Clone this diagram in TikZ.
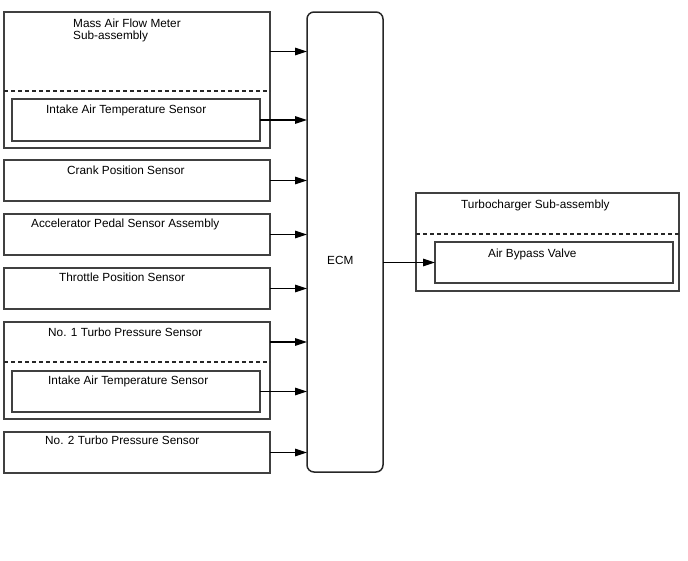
\documentclass[tikz,border=0pt]{standalone}
\usepackage{fontspec}
\setmainfont{Liberation Sans}
\usetikzlibrary{arrows.meta, positioning}

\begin{document}
\begin{tikzpicture}[x=1pt, y=-1pt,
    box/.style={rectangle, draw=black!75, line width=1.2pt, inner sep=0pt, outer sep=0pt},
    part/.style={rectangle, inner sep=0pt, outer sep=0pt},
    ecmbox/.style={rectangle, rounded corners=7pt, draw=black!85, line width=1.5pt, inner sep=0pt, outer sep=0pt},
    lbl/.style={anchor=base west, inner sep=0pt, font=\fontsize{11.8}{12.5}\selectfont, align=left},
    divider/.style={draw=black!85, line width=1.1pt, dash pattern=on 4pt off 3pt},
    arrow/.style={-{Triangle[length=12pt, width=7.5pt]}, line width=1.5pt}
]
\useasboundingbox (0,0) rectangle (688,560);

% sensors
\node[box, minimum width=266pt, minimum height=136pt] (maf) at (137,80) {};
\node[part, minimum width=266pt, minimum height=79pt] (mafhead) at (137,51.5) {};
\node[box, minimum width=248pt, minimum height=42pt] (iat1) at (136,120) {};
\draw[divider] (mafhead.south west) -- (mafhead.south east);
\node[lbl] (maflbl) at (73,39.5) {Mass Air Flow Meter\\Sub-assembly};
\node[lbl] (iat1lbl) at (46,113.5) {Intake Air Temperature Sensor};

\node[box, minimum width=266pt, minimum height=41pt] (crank) at (137,180.5) {};
\node[lbl] (cranklbl) at (67,174) {Crank Position Sensor};
\node[box, minimum width=266pt, minimum height=41pt] (accel) at (137,234.5) {};
\node[lbl] (accellbl) at (31,227.5) {Accelerator Pedal Sensor Assembly};
\node[box, minimum width=266pt, minimum height=41pt] (tps) at (137,288.5) {};
\node[lbl] (tpslbl) at (59,281.5) {Throttle Position Sensor};

\node[box, minimum width=266pt, minimum height=97pt] (tp1) at (137,370.5) {};
\node[part, minimum width=266pt, minimum height=40pt] (tp1head) at (137,342) {};
\node[box, minimum width=248pt, minimum height=41pt] (iat2) at (136,391.5) {};
\draw[divider] (tp1head.south west) -- (tp1head.south east);
\node[lbl] (tp1lbl) at (48,336.5) {No. 1 Turbo Pressure Sensor};
\node[lbl] (iat2lbl) at (48,384.5) {Intake Air Temperature Sensor};

\node[box, minimum width=266pt, minimum height=41pt] (tp2) at (137,452.5) {};
\node[lbl] (tp2lbl) at (45,444.5) {No. 2 Turbo Pressure Sensor};

% ECM
\node[ecmbox, minimum width=76pt, minimum height=460pt] (ecm) at (345,242) {};
\node[lbl] (ecmlbl) at (327,264.5) {ECM};

% actuator
\node[box, minimum width=263pt, minimum height=98pt] (turbo) at (547.5,242) {};
\node[part, minimum width=263pt, minimum height=41pt] (turbohead) at (547.5,213.5) {};
\node[box, minimum width=238pt, minimum height=41pt] (bypass) at (554,262.5) {};
\draw[divider] (turbohead.south west) -- (turbohead.south east);
\node[lbl] (turbolbl) at (461,208.5) {Turbocharger Sub-assembly};
\node[lbl] (bypasslbl) at (488,257) {Air Bypass Valve};

% signals
\foreach \src in {mafhead, iat1, crank, accel, tps, tp1head, iat2, tp2}
    \draw[arrow] (\src.east) -- (\src.east -| ecm.west);
\draw[arrow] (ecm.east |- bypass.west) -- (bypass.west);
\end{tikzpicture}
\end{document}
